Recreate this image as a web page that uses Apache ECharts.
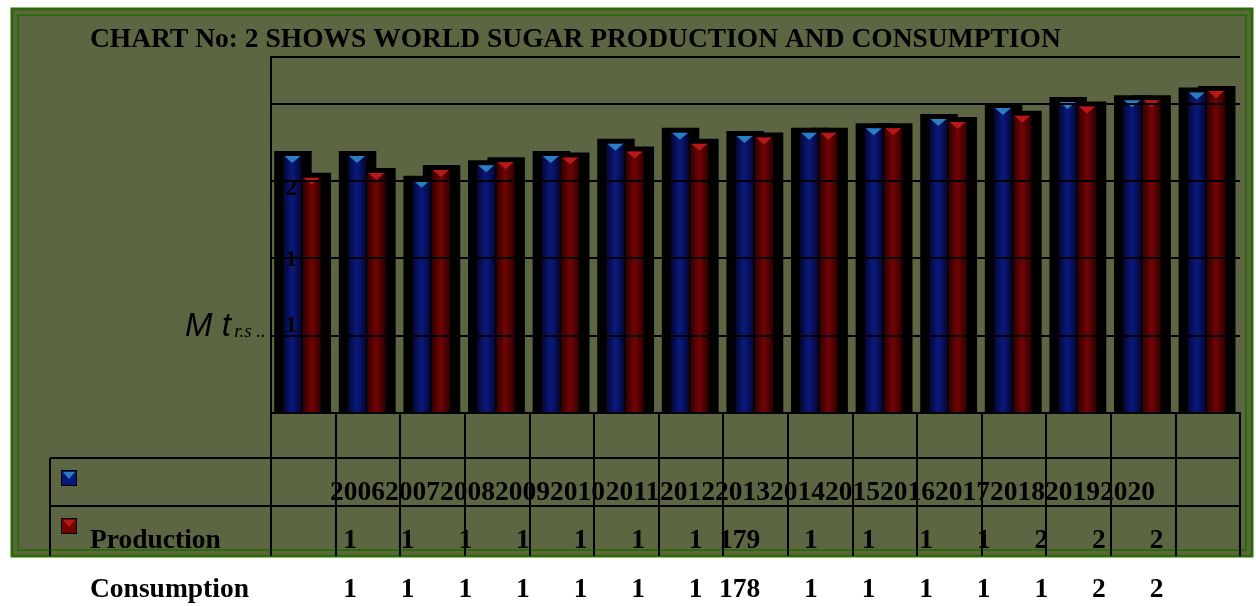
<!DOCTYPE html>
<html>
<head>
<meta charset="utf-8">
<script src="https://cdn.jsdelivr.net/npm/echarts@6/dist/echarts.min.js"></script>
<style>
html,body{margin:0;padding:0;background:#ffffff;}
#chart{width:1256px;height:606px;}
</style>
</head>
<body>
<div id="chart"></div>
<script>
// ---- data ----
const years = ['2006','2007','2008','2009','2010','2011','2012','2013','2014','2015','2016','2017','2018','2019','2020'];
const production  = [166,166,150,160,166,174,181,179,181,184,190,197,201,202,207];
const consumption = [152,155,157,162,165,169,174,178,181,184,188,192,198,202,208];
// table cells as they appear (truncated) in the reference
const productionCells  = ['1','1','1','1','1','1','1','179','1','1','1','1','2','2','2'];
const consumptionCells = ['1','1','1','1','1','1','1','178','1','1','1','1','1','2','2'];
// y-axis tick labels as they appear (truncated)
const yTickValues = [50,100,150];
const yTickLabels = ['1','1','2'];
const titleText = 'CHART No: 2 SHOWS WORLD SUGAR PRODUCTION AND CONSUMPTION';
const seriesNames = ['Production','Consumption'];

const chart = echarts.init(document.getElementById('chart'), null, {renderer:'canvas'});

const SERIF = "'Liberation Serif','Times New Roman',serif";
const FONT = 'bold 27.5px ' + SERIF;
const OLIVE = '#5d6642';
const GRID = {left:271, right:16, top:57, bottom:193};

const blueGrad = new echarts.graphic.LinearGradient(0,0,1,0,[
  {offset:0,color:'#040630'},{offset:0.45,color:'#0a187a'},{offset:0.6,color:'#091672'},{offset:1,color:'#040630'}]);
const redGrad = new echarts.graphic.LinearGradient(0,0,1,0,[
  {offset:0,color:'#300000'},{offset:0.5,color:'#720404'},{offset:1,color:'#300000'}]);

function renderGroup(params, api){
  const idx = api.value(0);
  const band = api.size([1,0])[0];
  const center = api.coord([idx,0]);
  const base = center[1];
  const vals = [api.value(1), api.value(2)];
  const barW = band*0.28;
  const offs = [-0.17*band, 0.13*band];
  const padL = band*0.14, padR = band*0.16, padT = 5;
  const fills = [blueGrad, redGrad];
  const tips = ['#2a7fc0','#b81818'];
  const boxes = [], bars = [];
  for(let s=0;s<2;s++){
    const top = api.coord([idx, vals[s]])[1];
    const x0 = center[0]+offs[s]-barW/2;
    boxes.push({type:'rect', shape:{x:x0-padL, y:top-padT, width:barW+padL+padR, height:base-top+padT}, style:{fill:'#000'}});
    bars.push({type:'rect', shape:{x:x0, y:top, width:barW, height:base-top}, style:{fill:fills[s]}});
    bars.push({type:'polygon', shape:{points:[[x0+1,top],[x0+barW-1,top],[x0+barW/2,top+7]]}, style:{fill:tips[s]}});
  }
  return {type:'group', children: boxes.concat(bars)};
}

// ---- table / decoration graphics ----
const plotRight = 1256-GRID.right;
const graphics = [];
// frame
graphics.push({type:'rect', shape:{x:12,y:9,width:1240,height:547}, style:{fill:OLIVE, stroke:'#2e6a06', lineWidth:3}, z:-10, silent:true});
graphics.push({type:'rect', shape:{x:18,y:15,width:1228,height:535}, style:{fill:null, stroke:'#2e6a06', lineWidth:2}, z:-9, silent:true});
// table lines
[458,506].forEach(y=>graphics.push({type:'line', shape:{x1:50,y1:y,x2:plotRight,y2:y}, style:{stroke:'#000',lineWidth:2}, z:5}));
graphics.push({type:'line', shape:{x1:50,y1:458,x2:50,y2:556}, style:{stroke:'#000',lineWidth:2}, z:5});
// legend keys
function key(y, fill, tip){
  return {type:'group', x:61, y:y, z:6, children:[
    {type:'rect', shape:{x:0,y:0,width:16,height:16}, style:{fill:'#000'}},
    {type:'rect', shape:{x:1,y:1,width:14,height:14}, style:{fill:fill}},
    {type:'polygon', shape:{points:[[2,2],[14,2],[8,9]]}, style:{fill:tip}}
  ]};
}
graphics.push(key(470, '#0a187a', '#2a7fc0'));
graphics.push(key(518, '#720404', '#b81818'));
graphics.push({type:'text', x:90, y:541, z:6, style:{text:seriesNames[0], font:FONT, fill:'#000', verticalAlign:'middle'}});
graphics.push({type:'text', x:90, y:590, z:6, style:{text:seriesNames[1], font:FONT, fill:'#000', verticalAlign:'middle'}});
years.forEach((y,i)=>graphics.push({type:'text', x:357.5+55*i, y:493, z:6, style:{text:y, font:FONT, fill:'#000', align:'center', verticalAlign:'middle'}}));
productionCells.forEach((t,i)=>graphics.push({type:'text', x:357+57.6*i, y:541, z:6, style:{text:t, font:FONT, fill:'#000', align:'right', verticalAlign:'middle'}}));
consumptionCells.forEach((t,i)=>graphics.push({type:'text', x:357+57.6*i, y:590, z:6, style:{text:t, font:FONT, fill:'#000', align:'right', verticalAlign:'middle'}}));
// title
graphics.push({type:'text', x:90, y:40, z:6, style:{text:titleText, font:FONT, fill:'#000', verticalAlign:'middle'}});
// y axis name
graphics.push({type:'text', x:185, y:327, z:6, style:{
  text:'{a|M t} {b|r.s ..}', verticalAlign:'middle', fill:'#000',
  rich:{a:{font:'italic 33px "Liberation Sans Narrow","Liberation Sans",sans-serif', fill:'#000'},
        b:{font:'italic 19px '+SERIF, fill:'#000', padding:[9,0,0,0]}}
}});

const tickStyles = ['lo','mid','hi'];
const tickBase = {fontSize:24, fontWeight:'bold', fontFamily:'Liberation Serif', color:'#000'};
const option = {
  animation:false,
  backgroundColor:'#ffffff',
  grid: GRID,
  xAxis:{
    type:'category', data:years, boundaryGap:true,
    axisLine:{show:true, lineStyle:{color:'#000', width:2}},
    axisTick:{show:true, length:143, lineStyle:{color:'#000', width:2}},
    axisLabel:{show:false},
    splitLine:{show:false}
  },
  yAxis:{
    type:'value', min:0, max:230, interval:50, z:10,
    axisLine:{show:true, lineStyle:{color:'#000', width:2}},
    axisTick:{show:true, inside:true, length:4, lineStyle:{color:'#000'}},
    splitLine:{show:true, lineStyle:{color:'#000', width:2}},
    axisLabel:{inside:true, margin:14, color:'#000', fontSize:24, fontWeight:'bold', fontFamily:'Liberation Serif',
      formatter:(v)=>{const k=yTickValues.indexOf(v); return k>=0?('{'+tickStyles[k]+'|'+yTickLabels[k]+'}'):'';},
      rich:{
        lo:Object.assign({padding:[0,0,20,0]}, tickBase),
        mid:Object.assign({padding:[4,0,0,0]}, tickBase),
        hi:Object.assign({padding:[16,0,0,0]}, tickBase)
      }}
  },
  series:[{
    type:'custom', name:seriesNames.join('/'),
    renderItem: renderGroup,
    encode:{x:0, y:[1,2]},
    data: years.map((y,i)=>[i, production[i], consumption[i]]),
    z:3
  }],
  graphic: graphics
};
chart.setOption(option);
</script>
</body>
</html>
